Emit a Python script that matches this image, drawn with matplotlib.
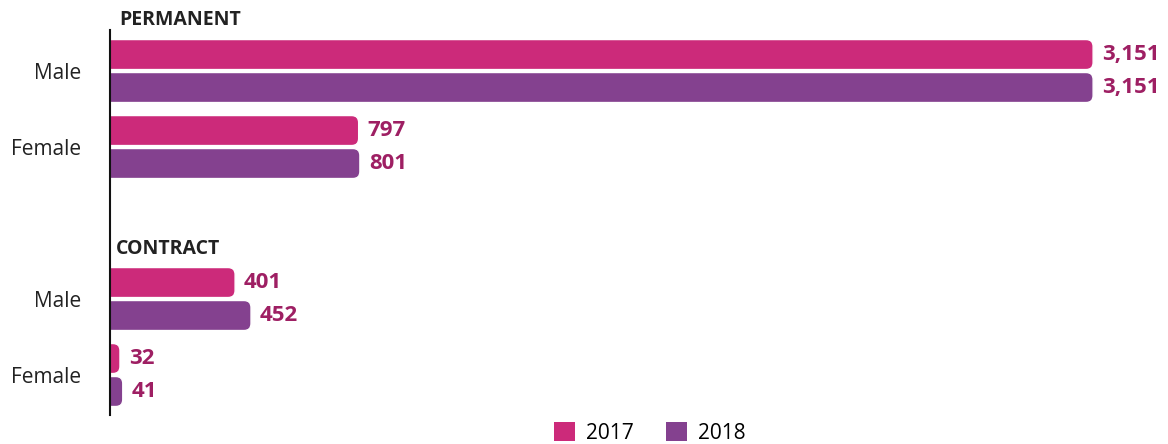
import matplotlib.pyplot as plt
from matplotlib.patches import FancyBboxPatch, Patch

# data
sections = ["PERMANENT", "CONTRACT"]
genders = ["Male", "Female"]
years = ["2017", "2018"]
vals_2017 = [3151, 797, 401, 32]   # perm male, perm female, contract male, contract female
vals_2018 = [3151, 801, 452, 41]

C17 = "#cc2a7a"
C18 = "#84418f"
LBL = "#9e1f63"
FONT = ["Open Sans", "DejaVu Sans"]

plt.rcParams["font.family"] = FONT

fig = plt.figure(figsize=(11.68, 4.44), dpi=100)
fig.patch.set_facecolor("white")
ax = fig.add_axes([110 / 1168, 1 - 415 / 444, 1 - 110 / 1168, (415 - 30) / 444])

# rows: two per section, with a gap of one row between sections
rows = [0, 1, 3, 4]
h = 0.395
off = 0.217
xmax = 3391
ax.set_xlim(0, xmax)
ax.set_ylim(4.526, -0.54)

# pixel -> data conversions for round corners that stay round
ax_w_px = 1168 - 110
ax_h_px = 385
x_per_px = xmax / ax_w_px
y_per_px = (4.526 + 0.54) / ax_h_px
r_px = 7


def rbar(y, w, color):
    left = -30 * x_per_px
    p = FancyBboxPatch((left, y - h / 2), w - left, h,
                       boxstyle=f"round,pad=0,rounding_size={r_px * x_per_px}",
                       mutation_aspect=y_per_px / x_per_px,
                       facecolor=color, edgecolor="white", linewidth=1, zorder=2)
    ax.add_patch(p)
    ax.text(w + 9 * x_per_px, y, f"{w:,}", ha="left", va="center",
            fontsize=16, fontweight="bold", color=LBL)


for r, a, b in zip(rows, vals_2017, vals_2018):
    rbar(r - off, a, C17)
    rbar(r + off, b, C18)

ax.set_yticks(rows)
ax.set_yticklabels(genders * 2, fontsize=15, color="#222222")
ax.tick_params(axis="y", length=0, pad=21)
ax.set_xticks([])
for s in ["top", "right", "bottom"]:
    ax.spines[s].set_visible(False)
ax.spines["left"].set_linewidth(1.5)
ax.spines["left"].set_color("#111111")
ax.spines["left"].set_zorder(3)

# section headers
fig.text(119 / 1168, 1 - 20 / 444, sections[0], fontsize=14, fontweight="bold",
         color="#222222", ha="left", va="center")
fig.text(116 / 1168, 1 - 249 / 444, sections[1], fontsize=14, fontweight="bold",
         color="#222222", ha="left", va="center")

handles = [Patch(facecolor=C17, label=years[0]), Patch(facecolor=C18, label=years[1])]
fig.legend(handles=handles, loc="center", bbox_to_anchor=(650 / 1168, 1 - 433 / 444),
           ncol=2, frameon=False, fontsize=15, handlelength=1.0, handleheight=1.0,
           columnspacing=1.55, handletextpad=0.55, borderpad=0.1)

fig.savefig("out.png", dpi=100, facecolor="white")
